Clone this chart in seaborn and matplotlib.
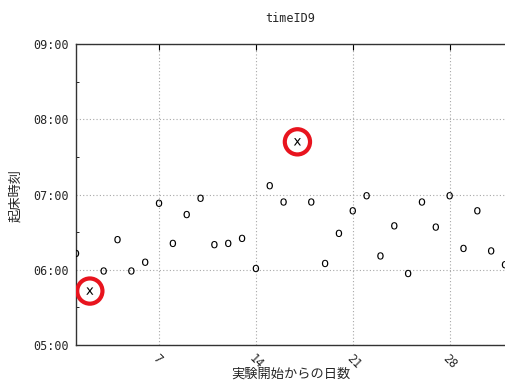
import numpy as np
import pandas as pd
import matplotlib
matplotlib.use("Agg")
import matplotlib.pyplot as plt
from matplotlib.ticker import MultipleLocator, FuncFormatter
from matplotlib.transforms import ScaledTranslation
import seaborn as sns

# data
days = list(range(1, 33))
wake_times = ["06:13", "05:43", "05:59", "06:24", "05:59", "06:06", "06:53", "06:21",
              "06:44", "06:57", "06:20", "06:21", "06:25", "06:01", "07:07", "06:54",
              "07:42", "06:54", "06:05", "06:29", "06:47", "06:59", "06:11", "06:35",
              "05:57", "06:54", "06:34", "06:59", "06:17", "06:47", "06:15", "06:04"]
outlier_days = [2, 17]
x_ticks = [7, 14, 21, 28]
y_ticks = [5, 6, 7, 8, 9]

def to_hours(s):
    h, m = s.split(":")
    return int(h) + int(m) / 60.0

df = pd.DataFrame({"day": days, "hour": [to_hours(t) for t in wake_times]})
df["mark"] = np.where(df["day"].isin(outlier_days), "x", "o")

sns.set_style("white")
plt.rcParams["font.family"] = ["Noto Sans CJK JP", "DejaVu Sans"]

fig = plt.figure(figsize=(5.05, 3.81), dpi=100)
ax = fig.add_axes([76 / 505, 36 / 381, 429 / 505, 301 / 381])

sns.scatterplot(data=df, x="day", y="hour", style="mark",
                markers={"o": r"$\mathrm{o}$", "x": r"$\mathrm{x}$"},
                color="black", s=28, linewidth=0, legend=False, ax=ax, zorder=3)

circ = df[df["mark"] == "x"]
sns.scatterplot(data=circ, x="day", y="hour", marker="o", s=330,
                facecolor="none", edgecolor="#e8141e", linewidth=3.0,
                legend=False, ax=ax, zorder=4)

ax.set_xlim(1, 32)
ax.set_ylim(5, 9)
ax.set_xticks(x_ticks)
ax.set_yticks(y_ticks)
ax.yaxis.set_minor_locator(MultipleLocator(0.5))
ax.yaxis.set_major_formatter(FuncFormatter(lambda v, p: "%02d:00" % int(round(v))))

ax.grid(True, which="major", color="#a8a8a8", linestyle=(0, (1, 2)), linewidth=0.8)
ax.tick_params(axis="both", which="both", direction="in", top=True, color="black")
ax.tick_params(axis="both", which="major", length=4, width=0.8)
ax.tick_params(axis="y", which="minor", length=2, width=0.6, left=True)
ax.spines["right"].set_visible(False)
for sp in ["left", "top", "bottom"]:
    ax.spines[sp].set_linewidth(1.0)
    ax.spines[sp].set_color("#333333")

for lab in ax.get_yticklabels():
    lab.set_fontfamily("DejaVu Sans Mono")
    lab.set_fontsize(8.5)
ax.tick_params(axis="y", pad=5)
shift = ScaledTranslation(4 / 72, 0, fig.dpi_scale_trans)
for lab in ax.get_xticklabels():
    lab.set_fontfamily("DejaVu Sans Mono")
    lab.set_fontsize(8.5)
    lab.set_rotation(-45)
    lab.set_ha("left")
    lab.set_va("top")
    lab.set_rotation_mode("anchor")
    lab.set_transform(lab.get_transform() + shift)
ax.tick_params(axis="x", pad=5)

ax.set_xlabel("実験開始からの日数", fontsize=9.5)
ax.xaxis.set_label_coords((291 - 76) / 429, (345 - 368) / 301)
ax.set_ylabel("起床時刻", fontsize=9.5)
ax.yaxis.set_label_coords((22 - 76) / 429, (345 - 196) / 301)
ax.set_title("timeID9", fontfamily="DejaVu Sans Mono", fontsize=8.5, pad=16)

fig.savefig("out.png", dpi=100)
